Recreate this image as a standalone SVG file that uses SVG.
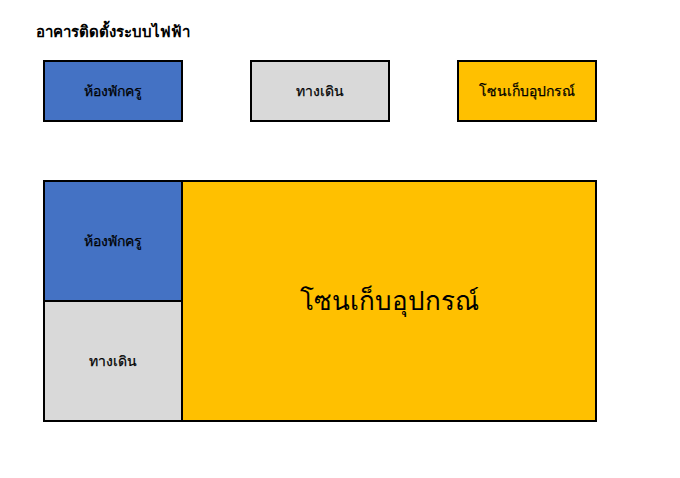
<svg xmlns="http://www.w3.org/2000/svg" width="680" height="478" viewBox="0 0 680 478">
<style>
text{font-family:"Tahoma","DejaVu Sans","Noto Sans","Liberation Sans",sans-serif;fill:#000;text-anchor:middle;dominant-baseline:central}
.b{stroke:#000;stroke-width:2}
.blue{fill:#4472C4}.grey{fill:#D9D9D9}.gold{fill:#FFC000}
.lbl{font-size:14px;stroke:#000;stroke-width:0.25}
</style>
<rect width="680" height="478" fill="#fff"/>
<text x="36" y="32" style="font-size:15px;font-weight:bold;text-anchor:start">อาคารติดตั้งระบบไฟฟ้า</text>
<g id="legend-teacher"><rect class="b blue" x="44" y="61" width="138" height="60"/><text class="lbl" x="113" y="91">ห้องพักครู</text></g>
<g id="legend-walkway"><rect class="b grey" x="251" y="61" width="138" height="60"/><text class="lbl" x="320" y="91">ทางเดิน</text></g>
<g id="legend-storage"><rect class="b gold" x="458" y="61" width="138" height="60"/><text class="lbl" x="527" y="91">โซนเก็บอุปกรณ์</text></g>
<g id="teacher-room"><rect class="b blue" x="44" y="181" width="138" height="120"/><text class="lbl" x="113" y="241">ห้องพักครู</text></g>
<g id="walkway"><rect class="b grey" x="44" y="301" width="138" height="120"/><text class="lbl" x="113" y="361">ทางเดิน</text></g>
<g id="storage-zone"><rect class="b gold" x="182" y="181" width="414" height="240"/><text x="389" y="301" style="font-size:26px">โซนเก็บอุปกรณ์</text></g>
<g id="connectors"/>
</svg>
